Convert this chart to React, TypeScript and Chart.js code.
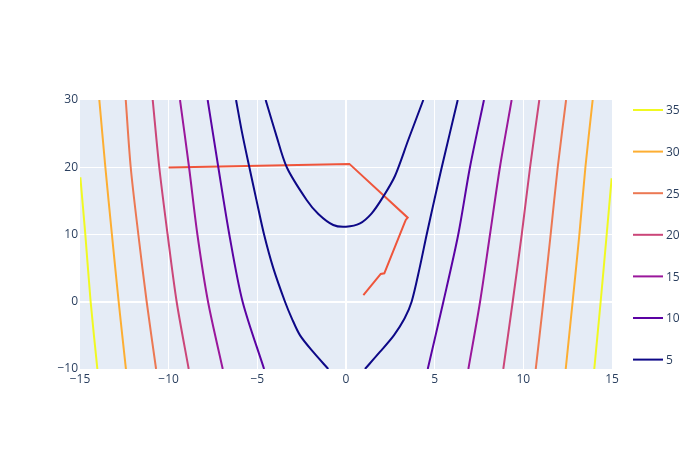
import React, { useEffect, useRef } from "react";
import { Chart, registerables } from "chart.js";

Chart.register(...registerables);

// Contour levels and colours
const levels = [5, 10, 15, 20, 25, 30, 35];
const levelColors = ["#0d0887", "#5b02a3", "#9a179b", "#cb4679", "#ec7853", "#fdae32", "#f0f921"];

// Contour line points, [x, y]
const c5Inner: number[][] = [
  [-4.53, 30], [-3.96, 25], [-3.34, 20], [-2.22, 15.13], [-1.56, 13.05], [-0.72, 11.41],
  [0, 11.16], [0.79, 11.66], [1.45, 13.15], [2.1, 15.63], [2.76, 18.7], [3.51, 24.05], [4.36, 30],
];
const c5Left: number[][] = [
  [-6.2, 30], [-5.85, 25], [-5.45, 20], [-5.04, 15], [-4.62, 10], [-4.1, 5], [-3.44, 0],
  [-3.05, -2.5], [-2.59, -5], [-1.84, -7.5], [-1.0, -10],
];
const c5Right: number[][] = [
  [1.07, -10], [1.9, -7.5], [2.7, -5], [3.3, -2.5], [3.7, 0], [4.15, 5], [4.55, 10],
  [4.97, 15], [5.4, 20], [5.85, 25], [6.3, 30],
];
const c10Left: number[][] = [[-7.8, 30], [-7.2, 20], [-6.58, 10], [-5.83, 0], [-4.62, -10]];
const c10Right: number[][] = [[4.61, -10], [5.49, 0], [6.33, 10], [6.99, 20], [7.78, 30]];
const c15Left: number[][] = [[-9.36, 30], [-8.85, 20], [-8.38, 10], [-7.78, 0], [-6.95, -10]];
const c15Right: number[][] = [[6.9, -10], [7.56, 0], [8.12, 10], [8.68, 20], [9.34, 30]];
const c20Left: number[][] = [[-10.9, 30], [-10.53, 20], [-10.06, 10], [-9.55, 0], [-8.87, -10]];
const c20Right: number[][] = [[8.87, -10], [9.4, 0], [9.91, 10], [10.38, 20], [10.9, 30]];
const c25Left: number[][] = [[-12.42, 30], [-12.14, 20], [-11.71, 10], [-11.24, 0], [-10.71, -10]];
const c25Right: number[][] = [[10.7, -10], [11.13, 0], [11.54, 10], [11.94, 20], [12.41, 30]];
const c30Left: number[][] = [[-13.91, 30], [-13.57, 20], [-13.2, 10], [-12.82, 0], [-12.41, -10]];
const c30Right: number[][] = [[12.39, -10], [12.78, 0], [13.16, 10], [13.5, 20], [13.91, 30]];
const c35Left: number[][] = [[-14.98, 18.5], [-14.7, 10], [-14.4, 0], [-14.02, -10]];
const c35Right: number[][] = [[14.0, -10], [14.36, 0], [14.7, 10], [14.98, 18.36]];

// Optimisation path
const pathX = [-10.0, 0.19, 3.48, 3.37, 3.29, 2.16, 1.96, 0.98];
const pathY = [19.95, 20.5, 12.5, 12.16, 11.66, 4.23, 4.13, 1.0];
const pathColor = "#ef553b";

const contourSets: { level: number; pts: number[][] }[] = [
  { level: 5, pts: c5Inner }, { level: 5, pts: c5Left }, { level: 5, pts: c5Right },
  { level: 10, pts: c10Left }, { level: 10, pts: c10Right },
  { level: 15, pts: c15Left }, { level: 15, pts: c15Right },
  { level: 20, pts: c20Left }, { level: 20, pts: c20Right },
  { level: 25, pts: c25Left }, { level: 25, pts: c25Right },
  { level: 30, pts: c30Left }, { level: 30, pts: c30Right },
  { level: 35, pts: c35Left }, { level: 35, pts: c35Right },
];

const FONT = '"Open Sans", verdana, arial, sans-serif';
const TEXT = "#2a3f5f";

const fmt = (v: number) => String(v).replace("-", "\u2212");

export default function App() {
  const ref = useRef<HTMLCanvasElement | null>(null);
  useEffect(() => {
    if (!ref.current) return;
    const datasets: any[] = contourSets.map((c) => ({
      data: c.pts.map(([x, y]) => ({ x, y })),
      showLine: true,
      borderColor: levelColors[levels.indexOf(c.level)],
      borderWidth: 2,
      pointRadius: 0,
      tension: 0.3,
      fill: false,
    }));
    datasets.push({
      data: pathX.map((x, i) => ({ x, y: pathY[i] })),
      showLine: true,
      borderColor: pathColor,
      borderWidth: 2,
      pointRadius: 0,
      tension: 0,
      fill: false,
    });

    const bg = {
      id: "bg",
      beforeDraw(chart: any) {
        const { ctx, chartArea: a } = chart;
        ctx.save();
        ctx.fillStyle = "#ffffff";
        ctx.fillRect(0, 0, chart.width, chart.height);
        ctx.fillStyle = "#e5ecf6";
        ctx.fillRect(a.left, a.top, a.right - a.left, a.bottom - a.top);
        ctx.restore();
      },
    };
    const legend = {
      id: "customLegend",
      afterDraw(chart: any) {
        const ctx = chart.ctx;
        ctx.save();
        ctx.font = `12px ${FONT}`;
        ctx.textBaseline = "middle";
        ctx.textAlign = "left";
        const order = [...levels].reverse();
        order.forEach((lv, i) => {
          const y = 110 + i * 41.6;
          ctx.strokeStyle = levelColors[levels.indexOf(lv)];
          ctx.lineWidth = 2;
          ctx.beginPath();
          ctx.moveTo(633, y);
          ctx.lineTo(663, y);
          ctx.stroke();
          ctx.fillStyle = TEXT;
          ctx.fillText(String(lv), 666, y + 1);
        });
        ctx.restore();
      },
    };

    const chart = new Chart(ref.current, {
      type: "scatter",
      data: { datasets },
      plugins: [bg, legend],
      options: {
        animation: false,
        responsive: false,
        layout: { padding: { left: 0, right: 88, top: 100, bottom: 61 } },
        plugins: { legend: { display: false }, tooltip: { enabled: false } },
        scales: {
          x: {
            type: "linear",
            min: -15,
            max: 15,
            afterFit: (s: any) => { s.height = 20; },
            ticks: {
              stepSize: 5,
              padding: 3,
              color: TEXT,
              font: { family: FONT, size: 12 },
              callback: (v: any) => fmt(v),
            },
            grid: {
              drawTicks: false,
              color: (c: any) => (c.tick && (c.tick.value === -15 || c.tick.value === 15) ? "rgba(0,0,0,0)" : "#ffffff"),
              lineWidth: (c: any) => (c.tick && c.tick.value === 0 ? 2 : 1),
            },
            border: { display: false },
          },
          y: {
            type: "linear",
            min: -10,
            max: 30,
            afterFit: (s: any) => { s.width = 80; },
            ticks: {
              stepSize: 10,
              padding: 2,
              color: TEXT,
              font: { family: FONT, size: 12 },
              callback: (v: any) => fmt(v),
            },
            grid: {
              drawTicks: false,
              color: (c: any) => (c.tick && (c.tick.value === -10 || c.tick.value === 30) ? "rgba(0,0,0,0)" : "#ffffff"),
              lineWidth: (c: any) => (c.tick && c.tick.value === 0 ? 2 : 1),
            },
            border: { display: false },
          },
        },
      },
    });
    return () => chart.destroy();
  }, []);
  return (
    <div style={{ position: "fixed", left: 0, top: 0, width: 700, height: 450 }}>
      <canvas ref={ref} width={700} height={450} style={{ width: 700, height: 450 }} />
    </div>
  );
}
